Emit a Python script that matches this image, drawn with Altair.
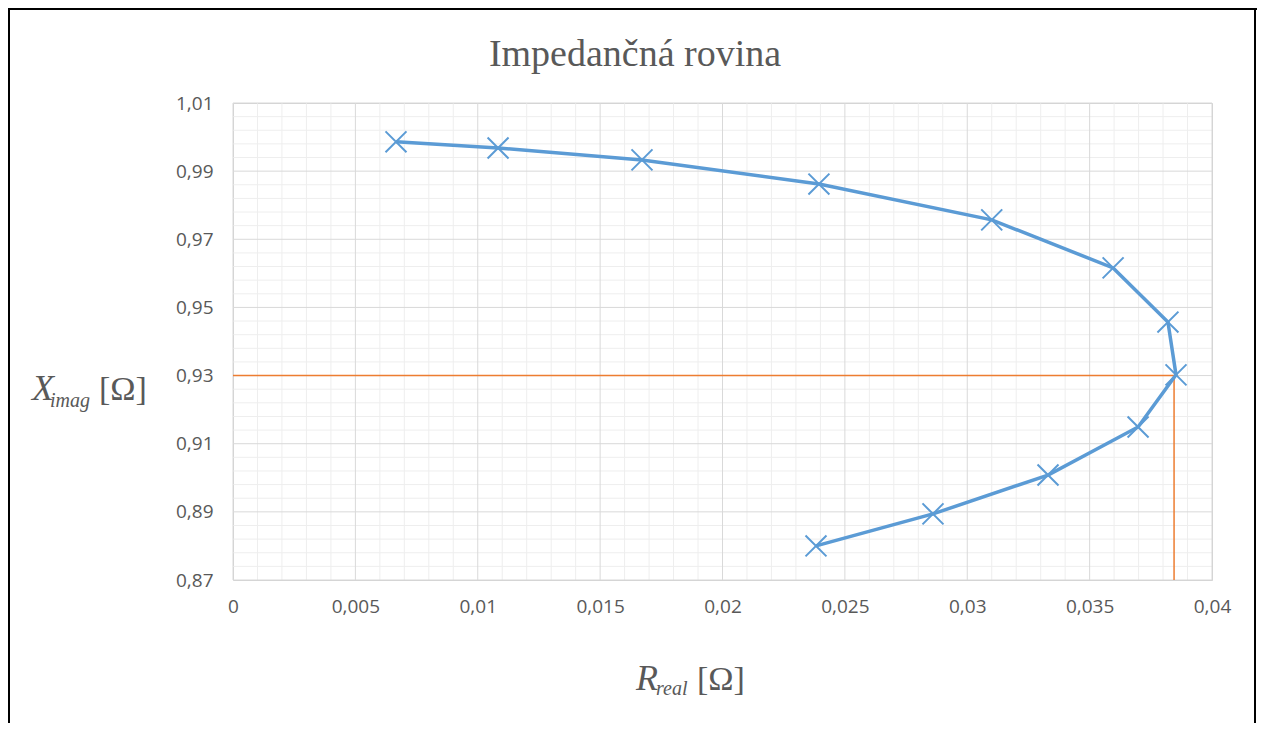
import altair as alt
import pandas as pd

# ---- data ----
R_real = [0.00666, 0.01083, 0.01671, 0.02394, 0.0310, 0.03596,
          0.0382, 0.03853, 0.03698, 0.0333, 0.0286, 0.02382]
X_imag = [0.9986, 0.9968, 0.9933, 0.9862, 0.9757, 0.9616,
          0.9457, 0.9302, 0.9149, 0.9008, 0.8894, 0.8800]

x_major = [0, 0.005, 0.01, 0.015, 0.02, 0.025, 0.03, 0.035, 0.04]
y_major = [0.87, 0.89, 0.91, 0.93, 0.95, 0.97, 0.99, 1.01]
x_minor = [round(i * 0.001, 3) for i in range(1, 40) if i % 5 != 0]
y_minor = [round(0.87 + i * 0.004, 3) for i in range(1, 35) if i % 5 != 0]

ref_R = 0.03845
ref_X = 0.93

title_text = "Impedančná rovina"

W, H = 979, 477
GREY = "#595959"
BLUE = "#5b9bd5"
ORANGE = "#ed7d31"

xs = alt.Scale(domain=[0, 0.04], nice=False, zero=False)
ys = alt.Scale(domain=[0.87, 1.01], nice=False, zero=False)

xax = alt.Axis(values=x_major, title=None, grid=False, ticks=False, domain=False,
               labelExpr="replace(format(datum.value, '~g'), '.', ',')",
               labelFont="Open Sans", labelFontSize=19, labelColor=GREY,
               labelPadding=17, labelFlush=False)
yax = alt.Axis(values=y_major, title=None, grid=False, ticks=False, domain=False,
               labelExpr="replace(format(datum.value, '.2f'), '.', ',')",
               labelFont="Open Sans", labelFontSize=19, labelColor=GREY,
               labelPadding=20, labelFlush=False)

df = pd.DataFrame({"R": R_real, "X": X_imag, "i": list(range(len(R_real)))})

minor_x = alt.Chart(pd.DataFrame({"R": x_minor})).mark_rule(
    color="#eeeeee", strokeWidth=1).encode(x=alt.X("R:Q", scale=xs, axis=xax))
minor_y = alt.Chart(pd.DataFrame({"X": y_minor})).mark_rule(
    color="#eeeeee", strokeWidth=1).encode(y=alt.Y("X:Q", scale=ys, axis=yax))
major_x = alt.Chart(pd.DataFrame({"R": x_major})).mark_rule(
    color="#d9d9d9", strokeWidth=1).encode(x=alt.X("R:Q", scale=xs, axis=xax))
major_y = alt.Chart(pd.DataFrame({"X": y_major})).mark_rule(
    color="#d9d9d9", strokeWidth=1).encode(y=alt.Y("X:Q", scale=ys, axis=yax))

ref_h = alt.Chart(pd.DataFrame({"R": [0], "R2": [ref_R], "X": [ref_X]})).mark_rule(
    color=ORANGE, strokeWidth=1.5).encode(
    x=alt.X("R:Q", scale=xs, axis=xax), x2="R2:Q", y=alt.Y("X:Q", scale=ys, axis=yax))
ref_v = alt.Chart(pd.DataFrame({"R": [ref_R], "X": [0.87], "X2": [ref_X]})).mark_rule(
    color=ORANGE, strokeWidth=1.5).encode(
    x=alt.X("R:Q", scale=xs, axis=xax), y=alt.Y("X:Q", scale=ys, axis=yax), y2="X2:Q")

line = alt.Chart(df).mark_line(color=BLUE, strokeWidth=3.5).encode(
    x=alt.X("R:Q", scale=xs, axis=xax), y=alt.Y("X:Q", scale=ys, axis=yax), order="i:Q")
pts = alt.Chart(df).mark_point(
    shape="M -1 -1 L 1 1 M -1 1 L 1 -1", filled=False, color=BLUE,
    strokeWidth=2, size=440, opacity=1).encode(
    x=alt.X("R:Q", scale=xs, axis=xax), y=alt.Y("X:Q", scale=ys, axis=yax))

one = pd.DataFrame({"t": [""]})


def txt(s, x, y, size, style="normal", font="Liberation Serif", align="left"):
    return alt.Chart(pd.DataFrame({"t": [s]})).mark_text(
        font=font, fontSize=size, fontStyle=style, color=GREY, align=align,
        baseline="alphabetic").encode(text="t:N", x=alt.value(x), y=alt.value(y))


title = txt(title_text, 402, -37, 38, align="center")
ylab = [txt("X", -201, 297, 36, "italic"),
        txt("imag", -183, 304, 20, "italic"),
        txt("[Ω]", -134, 297, 34)]
xlab = [txt("R", 403, 587, 36, "italic"),
        txt("real", 423, 592, 20, "italic"),
        txt("[Ω]", 464, 587, 34)]


def frame(**enc):
    return alt.Chart(one).mark_rule(color="black", strokeWidth=2).encode(**enc)


frames = [
    frame(x=alt.value(-226), x2=alt.value(1025), y=alt.value(-94)),
    frame(x=alt.value(-224), y=alt.value(-95), y2=alt.value(625)),
    frame(x=alt.value(1022), y=alt.value(-95), y2=alt.value(625)),
]

chart = alt.layer(
    minor_x, minor_y, major_x, major_y, ref_h, ref_v, line, pts,
    title, *ylab, *xlab, *frames
).properties(
    width=W, height=H,
    padding={"left": 225, "top": 95, "right": 45, "bottom": 143},
    autosize=alt.AutoSizeParams(type="none"),
).configure_view(stroke="#d0d0d0", strokeWidth=1)

chart.save("out.html", embed_options={"renderer": "svg", "actions": False})
